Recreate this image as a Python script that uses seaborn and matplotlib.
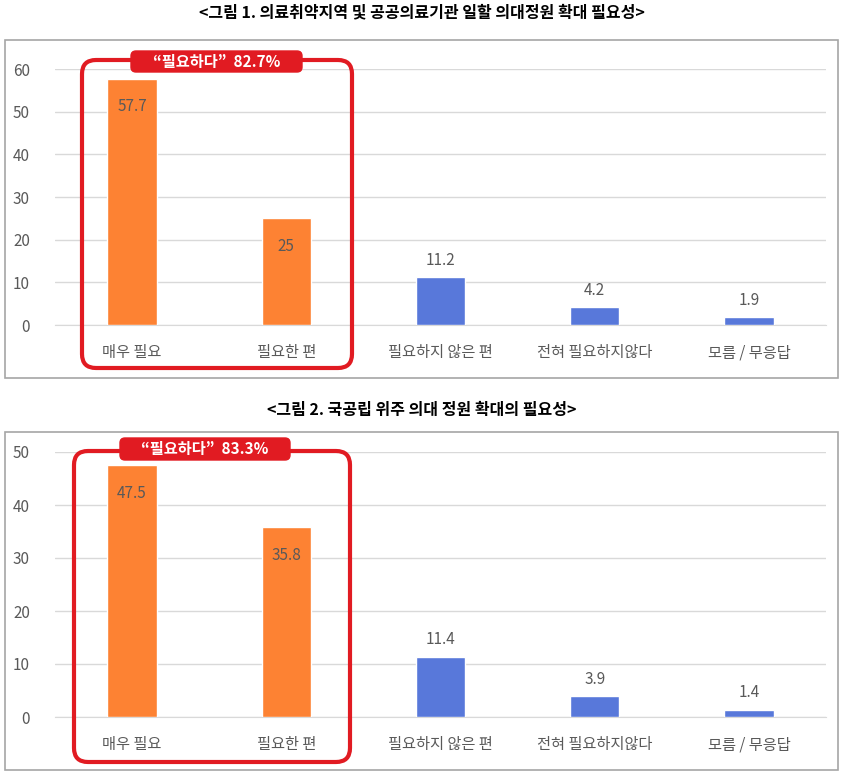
import matplotlib
matplotlib.use('Agg')
import matplotlib.pyplot as plt
import seaborn as sns
import pandas as pd
from matplotlib.patches import FancyBboxPatch, Rectangle

### - 의대정원 확대 필요성 설문 결과 (두 개 패널)

categories = ['매우 필요', '필요한 편', '필요하지 않은 편', '전혀 필요하지않다', '모름 / 무응답']
values_1 = [57.7, 25, 11.2, 4.2, 1.9]
values_2 = [47.5, 35.8, 11.4, 3.9, 1.4]
labels_1 = ['57.7', '25', '11.2', '4.2', '1.9']
labels_2 = ['47.5', '35.8', '11.4', '3.9', '1.4']
titles = ['<그림 1. 의료취약지역 및 공공의료기관 일할 의대정원 확대 필요성>',
          '<그림 2. 국공립 위주 의대 정원 확대의 필요성>']
badges = ['“필요하다”  82.7%', '“필요하다”  83.3%']
is_need = ['필요', '필요', '불필요', '불필요', '불필요']

sns.set_style('white')
plt.rcParams['font.family'] = ['Noto Sans CJK KR', 'DejaVu Sans']

ORANGE = '#FD8233'
BLUE = '#5878DA'
RED = '#E11B22'
GRID = '#D9D9D9'
TXT = '#595959'

W, H = 843, 772
fig = plt.figure(figsize=(W / 100, H / 100), dpi=100)

# overlay axes in pixel coordinates for frames and titles
ov = fig.add_axes([0, 0, 1, 1], zorder=0)
ov.set_xlim(0, W)
ov.set_ylim(H, 0)
ov.axis('off')

# top overlay for the red callouts
top = fig.add_axes([0, 0, 1, 1], zorder=5)
top.set_xlim(0, W)
top.set_ylim(H, 0)
top.axis('off')


def px_axes(x0, x1, y_top, y_bot):
    return [x0 / W, (H - y_bot) / H, (x1 - x0) / W, (y_bot - y_top) / H]


panels = [
    dict(vals=values_1, labs=labels_1, ymax=60, frame=(5, 40, 838, 378),
         ax=(55, 826, 69, 325), title_y=12, box=(82, 60, 352, 368),
         badge=(131, 51, 302, 72), title=titles[0], badge_txt=badges[0]),
    dict(vals=values_2, labs=labels_2, ymax=50, frame=(5, 432, 838, 770),
         ax=(55, 826, 452, 717), title_y=410, box=(74, 451, 350, 762),
         badge=(120, 438, 290, 460), title=titles[1], badge_txt=badges[1]),
]

for p in panels:
    fx0, fy0, fx1, fy1 = p['frame']
    ov.add_patch(Rectangle((fx0, fy0), fx1 - fx0, fy1 - fy0, fill=False,
                           edgecolor='#A6A6A6', lw=1.2))
    ov.text(W / 2, p['title_y'], p['title'], ha='center', va='center',
            fontsize=11.5, fontweight='bold', color='black')

    df = pd.DataFrame({'cat': categories, 'val': p['vals'], 'grp': is_need})
    ax = fig.add_axes(px_axes(*p['ax']), zorder=1)
    ax.patch.set_alpha(0)
    sns.barplot(data=df, x='cat', y='val', hue='grp',
                palette={'필요': ORANGE, '불필요': BLUE}, saturation=1,
                width=0.32, dodge=False, legend=False, ax=ax, zorder=3)
    ax.set_ylim(0, p['ymax'])
    ax.set_xlim(-0.5, 4.5)
    ax.set_yticks(range(0, p['ymax'] + 1, 10))
    ax.grid(axis='y', color=GRID, lw=1, zorder=0)
    ax.set_axisbelow(True)
    for s in ['top', 'right', 'left']:
        ax.spines[s].set_visible(False)
    ax.spines['bottom'].set_color(GRID)
    ax.tick_params(axis='y', length=0, labelsize=11, labelcolor=TXT, pad=18)
    ax.tick_params(axis='x', length=0, labelsize=11, labelcolor=TXT, pad=14)
    ax.set_xlabel('')
    ax.set_ylabel('')

    for i, (v, lab) in enumerate(zip(p['vals'], p['labs'])):
        if is_need[i] == '필요':
            ax.annotate(lab, (i, v), xytext=(0, -20), textcoords='offset points',
                        ha='center', va='center', fontsize=11, color=TXT)
        else:
            ax.annotate(lab, (i, v), xytext=(0, 12), textcoords='offset points',
                        ha='center', va='center', fontsize=11, color=TXT)

    bx0, by0, bx1, by1 = p['box']
    top.add_patch(FancyBboxPatch((bx0, by0), bx1 - bx0, by1 - by0,
                                 boxstyle='round,pad=0,rounding_size=14',
                                 fill=False, edgecolor=RED, lw=3))
    cx0, cy0, cx1, cy1 = p['badge']
    top.add_patch(FancyBboxPatch((cx0, cy0), cx1 - cx0, cy1 - cy0,
                                 boxstyle='round,pad=0,rounding_size=5',
                                 facecolor=RED, edgecolor=RED, lw=1))
    top.text((cx0 + cx1) / 2, (cy0 + cy1) / 2, p['badge_txt'],
             ha='center', va='center', fontsize=11, fontweight='bold',
             color='white')

fig.savefig('out.png', dpi=100)
